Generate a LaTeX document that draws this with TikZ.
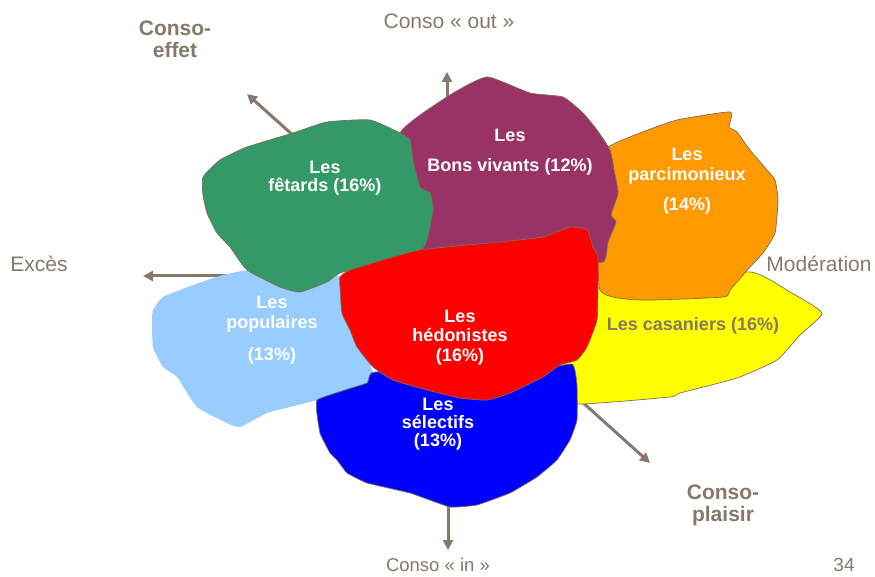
\documentclass[tikz,border=0pt]{standalone}
\usepackage{fontspec}
\setmainfont{Liberation Sans}
\usetikzlibrary{arrows.meta}
\definecolor{axisbrown}{RGB}{134,120,106}
\definecolor{edgebrown}{RGB}{125,108,90}
\definecolor{fetgreen}{RGB}{51,153,102}
\definecolor{bonpurple}{RGB}{153,51,102}
\definecolor{parorange}{RGB}{255,153,0}
\definecolor{casyellow}{RGB}{255,255,0}
\definecolor{poplight}{RGB}{153,204,255}
\definecolor{hedred}{RGB}{255,0,0}
\definecolor{selblue}{RGB}{0,0,255}

\begin{document}
\begin{tikzpicture}[
    x=1pt, y=-1pt,
    >={Triangle[length=10pt,width=10pt]},
    blob/.style={draw=edgebrown, line width=0.7pt, line join=round},
    axis/.style={->, draw=axisbrown, line width=3pt},
    axislbl/.style={text=axisbrown, font=\fontsize{21}{22}\selectfont, align=center, inner sep=0pt},
    grp/.style={text=white, font=\bfseries\fontsize{18}{18}\selectfont, align=center, inner sep=0pt}
]
\useasboundingbox (0,0) rectangle (875,577);

% axes (behind the groups)
\coordinate (outbase) at (447,108);
\coordinate (outtip) at (447,72);
\coordinate (effetbase) at (305,146);
\coordinate (effettip) at (247,94);
\coordinate (excesbase) at (260,276);
\coordinate (excestip) at (143,276);
\coordinate (plaisirbase) at (570,391);
\coordinate (plaisirtip) at (650,463);
\coordinate (inbase) at (448,495);
\coordinate (intip) at (448,550);

\draw[axis] (outbase) -- (outtip);
\draw[axis] (effetbase) -- (effettip);
\draw[axis] (excesbase) -- (excestip);
\draw[axis] (plaisirbase) -- (plaisirtip);
\draw[axis] (inbase) -- (intip);

% groups
\filldraw[blob, fill=casyellow] plot[smooth cycle, tension=0.3] coordinates {
  (575,290) (650,284) (750,272) (790,292) (822,313) (800,335) (777,360)
  (737,378) (680,393) (670,397) (578,404) (560,390) (560,300)};
\filldraw[blob, fill=parorange] plot[smooth cycle, tension=0.3] coordinates {
  (605,150) (640,133) (677,120) (730,112) (729,127) (737,132) (750,150)
  (767,170) (775,180) (778,200) (775,233) (763,253) (750,267) (730,290)
  (723,297) (640,300) (600,290) (598,200)};
\filldraw[blob, fill=bonpurple] plot[smooth cycle, tension=0.3] coordinates {
  (400,133) (450,95) (487,77) (530,93) (563,97) (583,113) (597,130)
  (610,150) (614,170) (618,193) (611,215) (616,222) (608,242) (603,262)
  (560,262) (420,262) (405,200)};
\fill[poplight] plot[smooth cycle, tension=0.3] coordinates {
  (152,320) (153,310) (163,297) (193,285) (223,275) (250,270) (300,270)
  (340,277) (353,327) (367,357) (373,373) (367,383) (317,400) (290,407)
  (267,413) (240,427) (227,423) (197,407) (177,377) (163,367) (153,347)};
\filldraw[blob, fill=fetgreen] plot[smooth cycle, tension=0.3] coordinates {
  (203,177) (220,160) (247,147) (293,133) (327,122) (370,120) (400,133)
  (410,140) (413,160) (420,187) (430,193) (433,210) (427,240) (420,250)
  (380,262) (340,273) (327,282) (300,292) (280,287) (247,270) (230,247)
  (217,233) (207,213) (203,195)};
\filldraw[blob, fill=selblue] plot[smooth cycle, tension=0.2] coordinates {
  (317,400) (367,383) (375,372) (520,372) (572,364) (577,385) (577,420)
  (570,440) (557,460) (537,477) (510,493) (477,505) (450,507) (410,493)
  (367,483) (347,473) (337,460) (330,453) (320,433)};
\filldraw[blob, fill=hedred] plot[smooth cycle, tension=0.3] coordinates {
  (340,277) (350,270) (393,257) (420,250) (467,245) (490,243) (543,237)
  (570,227) (587,230) (593,247) (598,257) (598,287) (597,320) (587,347)
  (577,360) (560,365) (543,377) (510,393) (487,400) (460,398) (427,390)
  (393,380) (373,367) (357,347) (350,330) (342,313) (340,287)};

% group labels
\node[grp] (fetards) at (325,178) {Les\\f\^etards (16\%)};
\node[grp] (bons) at (510,152) {Les\\[12pt]Bons vivants (12\%)};
\node[grp] (parci) at (687,181) {Les\\[2pt]parcimonieux\\[12pt](14\%)};
\node[grp] (popul) at (272,330) {Les\\[2pt]populaires\\[14pt](13\%)};
\node[grp] (hedon) at (460,338) {Les\\[1pt]h\'edonistes\\[2pt](16\%)};
\node[grp] (select) at (438,424) {Les\\s\'electifs\\(13\%)};
\node[grp, text=axisbrown] (casan) at (693,326) {Les casaniers (16\%)};

% axis labels
\node[axislbl] (out) at (449,21) {Conso « out »};
\node[axislbl, font=\bfseries\fontsize{21}{22}\selectfont] (effet) at (175,39) {Conso-\\effet};
\node[axislbl] (exces) at (39,264) {Excès};
\node[axislbl] (moder) at (819,264) {Modération};
\node[axislbl, font=\bfseries\fontsize{21}{22}\selectfont] (plaisir) at (723,505) {Conso-\\plaisir};
\node[axislbl, font=\fontsize{18.5}{20}\selectfont] (in) at (438,565) {Conso « in »};
\node[axislbl, font=\fontsize{19}{20}\selectfont] (page) at (844,565) {34};

\end{tikzpicture}
\end{document}
